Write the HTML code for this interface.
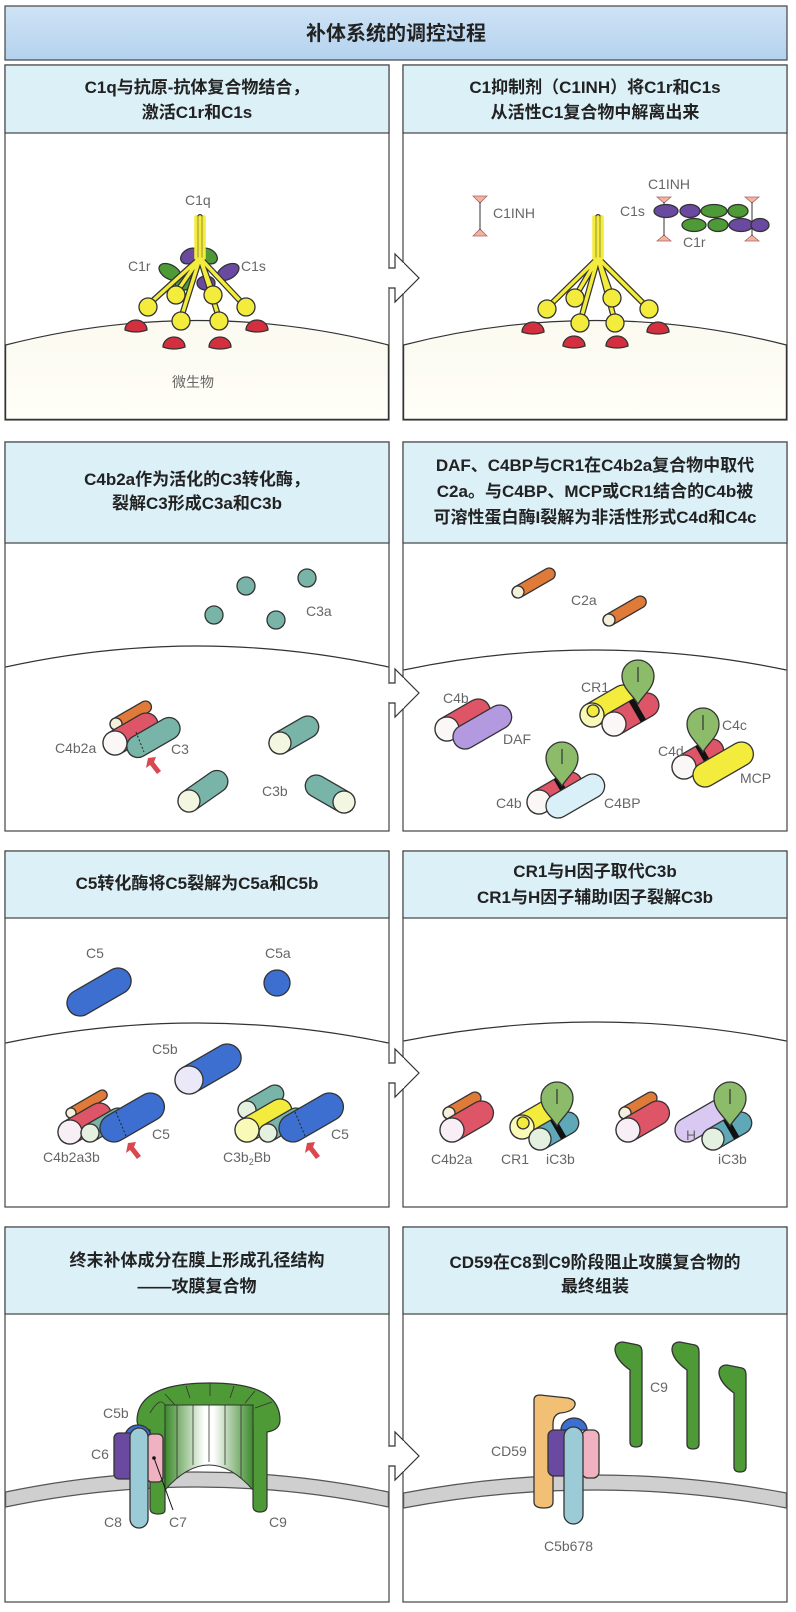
<!DOCTYPE html>
<html><head><meta charset="utf-8"><style>
html,body{margin:0;padding:0;background:#fff;width:796px;height:1612px;overflow:hidden}
svg{display:block}
.h{font-family:"Liberation Sans","Noto Sans CJK SC",sans-serif;font-weight:bold;font-size:17px;fill:#222;text-anchor:middle}
.l{font-family:"Liberation Sans","Noto Sans CJK SC",sans-serif;font-size:14px;fill:#666}
.o{stroke:#333;stroke-width:1.3}
</style></head><body>
<svg width="796" height="1612" viewBox="0 0 796 1612" xmlns="http://www.w3.org/2000/svg">
<defs>
<linearGradient id="tb" x1="0" y1="0" x2="0" y2="1"><stop offset="0" stop-color="#cfe3f5"/><stop offset="1" stop-color="#b3d2ee"/></linearGradient>
<linearGradient id="cr" x1="0" y1="0" x2="0" y2="1"><stop offset="0" stop-color="#fbfaf0"/><stop offset="1" stop-color="#fffef8"/></linearGradient>
<linearGradient id="pg" x1="0" y1="0" x2="1" y2="0"><stop offset="0" stop-color="#3d8a2c"/><stop offset="0.45" stop-color="#ffffff"/><stop offset="0.55" stop-color="#ffffff"/><stop offset="1" stop-color="#3d8a2c"/></linearGradient>
</defs>
<!-- Title -->
<rect x="5" y="6" width="782" height="54" fill="url(#tb)" stroke="#444" stroke-width="1.2"/>
<text x="396" y="40" class="h" style="font-size:20px">补体系统的调控过程</text>

<!-- panels -->
<g fill="#fff" stroke="#444" stroke-width="1.2">
<rect x="5" y="65" width="384" height="355"/><rect x="403" y="65" width="384" height="355"/>
<rect x="5" y="442" width="384" height="389"/><rect x="403" y="442" width="384" height="389"/>
<rect x="5" y="851" width="384" height="356"/><rect x="403" y="851" width="384" height="356"/>
<rect x="5" y="1227" width="384" height="375"/><rect x="403" y="1227" width="384" height="375"/>
</g>
<g fill="#dcf0f8" stroke="#444" stroke-width="1.2">
<rect x="5" y="65" width="384" height="68"/><rect x="403" y="65" width="384" height="68"/>
<rect x="5" y="442" width="384" height="101"/><rect x="403" y="442" width="384" height="101"/>
<rect x="5" y="851" width="384" height="67"/><rect x="403" y="851" width="384" height="67"/>
<rect x="5" y="1227" width="384" height="87"/><rect x="403" y="1227" width="384" height="87"/>
</g>
<text class="h" x="197" y="93">C1q与抗原-抗体复合物结合，</text>
<text class="h" x="197" y="118">激活C1r和C1s</text>
<text class="h" x="595" y="93">C1抑制剂（C1INH）将C1r和C1s</text>
<text class="h" x="595" y="118">从活性C1复合物中解离出来</text>
<text class="h" x="197" y="485">C4b2a作为活化的C3转化酶，</text>
<text class="h" x="197" y="509">裂解C3形成C3a和C3b</text>
<text class="h" x="595" y="471">DAF、C4BP与CR1在C4b2a复合物中取代</text>
<text class="h" x="595" y="497">C2a。与C4BP、MCP或CR1结合的C4b被</text>
<text class="h" x="595" y="523">可溶性蛋白酶I裂解为非活性形式C4d和C4c</text>
<text class="h" x="197" y="889">C5转化酶将C5裂解为C5a和C5b</text>
<text class="h" x="595" y="877">CR1与H因子取代C3b</text>
<text class="h" x="595" y="903">CR1与H因子辅助I因子裂解C3b</text>
<text class="h" x="197" y="1266">终末补体成分在膜上形成孔径结构</text>
<text class="h" x="197" y="1292">——攻膜复合物</text>
<text class="h" x="595" y="1268">CD59在C8到C9阶段阻止攻膜复合物的</text>
<text class="h" x="595" y="1292">最终组装</text>

<!-- membranes -->
<path d="M5.6 345 Q197 296 388.4 345 L388.4 419.4 L5.6 419.4Z" fill="url(#cr)" stroke="#333" stroke-width="1.2"/>
<path d="M403.6 345 Q595 296 786.4 345 L786.4 419.4 L403.6 419.4Z" fill="url(#cr)" stroke="#333" stroke-width="1.2"/>
<path d="M5.6 667 Q197 625 388.4 667" fill="none" stroke="#333" stroke-width="1.2"/>
<path d="M403.6 670 Q595 630 786.4 670" fill="none" stroke="#333" stroke-width="1.2"/>
<path d="M5.6 1043 Q197 1003 388.4 1043" fill="none" stroke="#333" stroke-width="1.2"/>
<path d="M403.6 1041 Q595 1003 786.4 1041" fill="none" stroke="#333" stroke-width="1.2"/>
<path d="M5.6 1492 Q197 1452 388.4 1492 L388.4 1507 Q197 1467 5.6 1507Z" fill="#cfcfcf" stroke="#555" stroke-width="1.2"/>
<path d="M403.6 1493 Q595 1457 786.4 1493 L786.4 1508 Q595 1472 403.6 1508Z" fill="#cfcfcf" stroke="#555" stroke-width="1.2"/>

<!-- arrows between panels -->
<g fill="#fff" stroke="#333" stroke-width="1.2">
<path d="M389 268 L395 268 L395 254 L419 278 L395 302 L395 288 L389 288"/>
<path d="M389 683 L395 683 L395 669 L419 693 L395 717 L395 703 L389 703"/>
<path d="M389 1063 L395 1063 L395 1049 L419 1073 L395 1097 L395 1083 L389 1083"/>
<path d="M389 1446 L395 1446 L395 1432 L419 1456 L395 1480 L395 1466 L389 1466"/>
</g>
<g stroke="#fff" stroke-width="2">
<line x1="389" y1="269" x2="389" y2="287"/><line x1="403" y1="263" x2="403" y2="293"/>
<line x1="389" y1="684" x2="389" y2="702"/><line x1="403" y1="678" x2="403" y2="708"/>
<line x1="389" y1="1064" x2="389" y2="1082"/><line x1="403" y1="1058" x2="403" y2="1088"/>
<line x1="389" y1="1447" x2="389" y2="1465"/><line x1="403" y1="1441" x2="403" y2="1471"/>
</g>

<!-- ROW1 LEFT: C1 -->
<g class="o">
<ellipse cx="190" cy="256" rx="10" ry="7" fill="#6a4aa0" transform="rotate(-30 190 256)"/>
<ellipse cx="208" cy="256" rx="10" ry="7" fill="#4e9a36" transform="rotate(30 208 256)"/>
<ellipse cx="170" cy="272" rx="12" ry="7" fill="#4e9a36" transform="rotate(30 170 272)"/>
<ellipse cx="228" cy="272" rx="12" ry="7" fill="#6a4aa0" transform="rotate(-30 228 272)"/>
<ellipse cx="184" cy="283" rx="9" ry="7" fill="#4e9a36"/>
<ellipse cx="206" cy="283" rx="9" ry="7" fill="#6a4aa0"/>
</g>
<g stroke="#333" stroke-width="6" stroke-linecap="round" fill="none">
<path d="M200 217 V258 L148 305 M200 258 L176 293 M200 258 L181 318 M200 258 L213 293 M200 258 L219 318 M200 258 L244 305"/>
</g>
<g stroke="#f4ec3c" stroke-width="3.5" stroke-linecap="round" fill="none">
<path d="M196 217 V258 M200 217 V258 M204 217 V258 M200 258 L148 305 M200 258 L176 293 M200 258 L181 318 M200 258 L213 293 M200 258 L219 318 M200 258 L244 305"/>
</g>
<g class="o" fill="#f4ec3c">
<circle cx="148" cy="307" r="9"/><circle cx="176" cy="295" r="9"/><circle cx="181" cy="321" r="9"/><circle cx="213" cy="295" r="9"/><circle cx="219" cy="321" r="9"/><circle cx="246" cy="307" r="9"/>
</g>
<g class="o" fill="#d42f3e">
<path d="M125 330 A11 10 0 0 1 147 330 Q136 334 125 330Z"/><path d="M163 347 A11 10 0 0 1 185 347 Q174 351 163 347Z"/>
<path d="M209 347 A11 10 0 0 1 231 347 Q220 351 209 347Z"/><path d="M246 330 A11 10 0 0 1 268 330 Q257 334 246 330Z"/>
</g>
<text class="l" x="185" y="205">C1q</text>
<text class="l" x="128" y="271">C1r</text>
<text class="l" x="241" y="271">C1s</text>
<text class="l" x="172" y="387">微生物</text>

<!-- ROW1 RIGHT -->
<g stroke="#333" stroke-width="6" stroke-linecap="round" fill="none">
<path d="M598 217 V258 L547 308 M598 258 L575 297 M598 258 L580 322 M598 258 L612 297 M598 258 L615 322 M598 258 L648 308"/>
</g>
<g stroke="#f4ec3c" stroke-width="3.5" stroke-linecap="round" fill="none">
<path d="M594 217 V258 M598 217 V258 M602 217 V258 M598 258 L547 308 M598 258 L575 297 M598 258 L580 322 M598 258 L612 297 M598 258 L615 322 M598 258 L648 308"/>
</g>
<g class="o" fill="#f4ec3c">
<circle cx="547" cy="309" r="9"/><circle cx="575" cy="298" r="9"/><circle cx="580" cy="323" r="9"/><circle cx="612" cy="298" r="9"/><circle cx="615" cy="323" r="9"/><circle cx="649" cy="309" r="9"/>
</g>
<g class="o" fill="#d42f3e">
<path d="M522 332 A11 10 0 0 1 544 332 Q533 336 522 332Z"/><path d="M563 346 A11 10 0 0 1 585 346 Q574 350 563 346Z"/>
<path d="M606 346 A11 10 0 0 1 628 346 Q617 350 606 346Z"/><path d="M647 332 A11 10 0 0 1 669 332 Q658 336 647 332Z"/>
</g>
<g fill="#f2b3a0" stroke="#a66" stroke-width="0.8">
<path d="M473 196 L487 196 L480 203Z"/><path d="M473 236 L487 236 L480 229Z"/>
<path d="M657 197 L671 197 L664 203Z"/><path d="M657 241 L671 241 L664 235Z"/>
<path d="M745 197 L759 197 L752 203Z"/><path d="M745 241 L759 241 L752 235Z"/>
</g>
<g stroke="#333" stroke-width="1"><line x1="480" y1="202" x2="480" y2="230"/><line x1="664" y1="202" x2="664" y2="236"/><line x1="752" y1="202" x2="752" y2="236"/></g>
<g class="o">
<ellipse cx="666" cy="211" rx="12" ry="6.5" fill="#6a4aa0"/><ellipse cx="690" cy="211" rx="10" ry="6.5" fill="#6a4aa0"/>
<ellipse cx="714" cy="211" rx="13" ry="6.5" fill="#4e9a36"/><ellipse cx="738" cy="211" rx="10" ry="6.5" fill="#4e9a36"/>
<ellipse cx="694" cy="225" rx="12" ry="6.5" fill="#4e9a36"/><ellipse cx="718" cy="225" rx="10" ry="6.5" fill="#4e9a36"/>
<ellipse cx="741" cy="225" rx="12" ry="6.5" fill="#6a4aa0"/><ellipse cx="760" cy="225" rx="9" ry="6.5" fill="#6a4aa0"/>
</g>
<text class="l" x="493" y="218">C1INH</text>
<text class="l" x="648" y="189">C1INH</text>
<text class="l" x="620" y="216">C1s</text>
<text class="l" x="683" y="247">C1r</text>

<!-- ROW2 LEFT -->
<g class="o" fill="#78b4a8">
<circle cx="246" cy="586" r="9"/><circle cx="307" cy="578" r="9"/><circle cx="214" cy="615" r="9"/><circle cx="276" cy="620" r="9"/>
</g>
<text class="l" x="306" y="616">C3a</text>
<g class="o">
<g transform="translate(116 724) rotate(-30)"><rect x="-6" y="-6" width="46" height="12" rx="6" fill="#e07a38"/><circle r="6" fill="#f5f0dc"/></g>
<g transform="translate(115 743) rotate(-30)"><rect x="-12" y="-12" width="60" height="24" rx="12" fill="#dd5566"/><circle r="12" fill="#fbf7f7"/></g>
<g transform="translate(137 747) rotate(-30)"><rect x="-10" y="-11" width="58" height="22" rx="11" fill="#78b4a8"/></g>
<g transform="translate(280 743) rotate(-30)"><rect x="-11" y="-11" width="54" height="22" rx="11" fill="#78b4a8"/><circle r="11" fill="#f3f6e0"/></g>
<g transform="translate(189 801) rotate(-35)"><rect x="-11" y="-11" width="56" height="22" rx="11" fill="#78b4a8"/><circle r="11" fill="#f3f6e0"/></g>
<g transform="translate(344 802) rotate(210)"><rect x="-11" y="-11" width="54" height="22" rx="11" fill="#78b4a8"/><circle r="11" fill="#f3f6e0"/></g>
</g>
<line x1="136" y1="732" x2="144" y2="752" stroke="#222" stroke-dasharray="2 2"/>
<path d="M148 758 L156 757 L154 762 L161 771 L157 774 L150 765 L146 768Z" fill="#d9474f"/>
<text class="l" x="55" y="753">C4b2a</text>
<text class="l" x="171" y="754">C3</text>
<text class="l" x="262" y="796">C3b</text>

<!-- ROW2 RIGHT -->
<g class="o">
<g transform="translate(518 592) rotate(-30)"><rect x="-6" y="-6" width="48" height="12" rx="6" fill="#e07a38"/><circle r="6" fill="#f5f0dc"/></g>
<g transform="translate(609 620) rotate(-30)"><rect x="-6" y="-6" width="48" height="12" rx="6" fill="#e07a38"/><circle r="6" fill="#f5f0dc"/></g>
<!-- C4b DAF -->
<g transform="translate(447 729) rotate(-30)"><rect x="-12" y="-12" width="60" height="24" rx="12" fill="#dd5566"/><circle r="12" fill="#fbf7f7"/></g>
<g transform="translate(465 737) rotate(-30)"><rect x="-12" y="-12" width="64" height="24" rx="12" fill="#b39ae0"/></g>
<!-- CR1 -->
<g transform="translate(592 715) rotate(-30)"><rect x="-12" y="-12" width="60" height="24" rx="12" fill="#f4ec3c"/><circle r="12" fill="#fafab8"/><circle cx="3" cy="-3" r="6" fill="#f4ec3c"/></g>
<g transform="translate(614 724) rotate(-30)"><rect x="-12" y="-12" width="62" height="24" rx="12" fill="#dd5566"/><circle r="12" fill="#fbf7f7"/><rect x="24" y="-12" width="6" height="24" fill="#111" stroke="none"/></g>
<!-- C4d MCP -->
<g transform="translate(684 767) rotate(-30)"><rect x="-12" y="-12" width="56" height="24" rx="12" fill="#dd5566"/><circle r="12" fill="#fbf7f7"/><rect x="20" y="-12" width="6" height="24" fill="#111" stroke="none"/></g>
<g transform="translate(705 775) rotate(-30)"><rect x="-12" y="-12" width="66" height="24" rx="12" fill="#f4ec3c"/></g>
<!-- C4b C4BP -->
<g transform="translate(539 802) rotate(-30)"><rect x="-12" y="-12" width="60" height="24" rx="12" fill="#dd5566"/><circle r="12" fill="#fbf7f7"/><rect x="24" y="-12" width="6" height="24" fill="#111" stroke="none"/></g>
<g transform="translate(558 806) rotate(-30)"><rect x="-12" y="-12" width="64" height="24" rx="12" fill="#daf0f8"/></g>
</g>
<g class="o" fill="#8cbb6a">
<path d="M638 704 C632 694 622 688 622 676 A16 16 0 1 1 654 676 C654 688 644 694 638 704Z"/>
<path d="M703 752 C697 742 687 736 687 724 A16 16 0 1 1 719 724 C719 736 709 742 703 752Z"/>
<path d="M562 786 C556 776 546 770 546 758 A16 16 0 1 1 578 758 C578 770 568 776 562 786Z"/>
</g>
<g stroke="#333" stroke-width="1.2"><line x1="638" y1="667" x2="638" y2="682"/><line x1="703" y1="715" x2="703" y2="730"/><line x1="562" y1="749" x2="562" y2="764"/></g>
<text class="l" x="571" y="605">C2a</text>
<text class="l" x="443" y="703">C4b</text>
<text class="l" x="503" y="744">DAF</text>
<text class="l" x="581" y="692">CR1</text>
<text class="l" x="722" y="730">C4c</text>
<text class="l" x="658" y="756">C4d</text>
<text class="l" x="740" y="783">MCP</text>
<text class="l" x="496" y="808">C4b</text>
<text class="l" x="604" y="808">C4BP</text>

<!-- ROW3 LEFT -->
<g class="o">
<g transform="translate(80 1003) rotate(-30)"><rect x="-13" y="-13" width="70" height="26" rx="13" fill="#3d6fd0"/></g>
<circle cx="277" cy="983" r="13" fill="#3d6fd0"/>
<g transform="translate(189 1080) rotate(-30)"><rect x="-14" y="-14" width="72" height="28" rx="14" fill="#3d6fd0"/><circle r="14" fill="#ebe9f7"/></g>
<!-- complex 1 -->
<g transform="translate(71 1113) rotate(-30)"><rect x="-5" y="-5" width="46" height="10" rx="5" fill="#e07a38"/><circle r="5" fill="#f5f0dc"/></g>
<g transform="translate(70 1132) rotate(-30)"><rect x="-12" y="-12" width="58" height="24" rx="12" fill="#dd5566"/><circle r="12" fill="#f8eef6"/></g>
<g transform="translate(90 1133) rotate(-30)"><rect x="-9" y="-9" width="50" height="18" rx="9" fill="#78b4a8"/><circle r="9" fill="#e4f0e0"/></g>
<g transform="translate(114 1128) rotate(-30)"><rect x="-14" y="-14" width="70" height="28" rx="14" fill="#3d6fd0"/></g>
<!-- complex 2 -->
<g transform="translate(247 1110) rotate(-30)"><rect x="-9" y="-9" width="50" height="18" rx="9" fill="#78b4a8"/><circle r="9" fill="#e4f0e0"/></g>
<g transform="translate(247 1130) rotate(-30)"><rect x="-12" y="-12" width="62" height="24" rx="12" fill="#f4ec3c"/><circle r="12" fill="#fafab8"/></g>
<g transform="translate(268 1133) rotate(-30)"><rect x="-9" y="-9" width="50" height="18" rx="9" fill="#78b4a8"/><circle r="9" fill="#e4f0e0"/></g>
<g transform="translate(293 1128) rotate(-30)"><rect x="-14" y="-14" width="70" height="28" rx="14" fill="#3d6fd0"/></g>
</g>
<line x1="116" y1="1112" x2="126" y2="1136" stroke="#222" stroke-dasharray="2 2"/>
<line x1="295" y1="1112" x2="305" y2="1136" stroke="#222" stroke-dasharray="2 2"/>
<path d="M128 1143 L136 1142 L134 1147 L141 1156 L137 1159 L130 1150 L126 1153Z" fill="#d9474f"/>
<path d="M307 1143 L315 1142 L313 1147 L320 1156 L316 1159 L309 1150 L305 1153Z" fill="#d9474f"/>
<text class="l" x="86" y="958">C5</text>
<text class="l" x="265" y="958">C5a</text>
<text class="l" x="152" y="1054">C5b</text>
<text class="l" x="43" y="1162">C4b2a3b</text>
<text class="l" x="152" y="1139">C5</text>
<text class="l" x="223" y="1162">C3b<tspan font-size="9" dy="3">2</tspan><tspan dy="-3">Bb</tspan></text>
<text class="l" x="331" y="1139">C5</text>

<!-- ROW3 RIGHT -->
<g class="o">
<g transform="translate(449 1113) rotate(-30)"><rect x="-6" y="-6" width="42" height="12" rx="6" fill="#e07a38"/><circle r="6" fill="#f5f0dc"/></g>
<g transform="translate(452 1130) rotate(-30)"><rect x="-12" y="-12" width="58" height="24" rx="12" fill="#dd5566"/><circle r="12" fill="#f8eef6"/></g>
<g transform="translate(522 1127) rotate(-30)"><rect x="-12" y="-12" width="60" height="24" rx="12" fill="#f4ec3c"/><circle r="12" fill="#fafab8"/><circle cx="3" cy="-3" r="6" fill="#f4ec3c"/></g>
<g transform="translate(540 1139) rotate(-30)"><rect x="-11" y="-11" width="54" height="22" rx="11" fill="#5fa8b8"/><circle r="11" fill="#e4f0e0"/><rect x="18" y="-11" width="6" height="22" fill="#111" stroke="none"/></g>
<g transform="translate(625 1113) rotate(-30)"><rect x="-6" y="-6" width="42" height="12" rx="6" fill="#e07a38"/><circle r="6" fill="#f5f0dc"/></g>
<g transform="translate(628 1130) rotate(-30)"><rect x="-12" y="-12" width="58" height="24" rx="12" fill="#dd5566"/><circle r="12" fill="#f8eef6"/></g>
<g transform="translate(687 1130) rotate(-30)"><rect x="-12" y="-12" width="70" height="24" rx="12" fill="#d9c8f2"/></g>
<g transform="translate(713 1139) rotate(-30)"><rect x="-11" y="-11" width="54" height="22" rx="11" fill="#5fa8b8"/><circle r="11" fill="#e4f0e0"/><rect x="18" y="-11" width="6" height="22" fill="#111" stroke="none"/></g>
</g>
<g class="o" fill="#8cbb6a">
<path d="M557 1126 C551 1116 541 1110 541 1098 A16 16 0 1 1 573 1098 C573 1110 563 1116 557 1126Z"/>
<path d="M730 1126 C724 1116 714 1110 714 1098 A16 16 0 1 1 746 1098 C746 1110 736 1116 730 1126Z"/>
</g>
<g stroke="#333" stroke-width="1.2"><line x1="557" y1="1089" x2="557" y2="1104"/><line x1="730" y1="1089" x2="730" y2="1104"/></g>
<text class="l" x="686" y="1140">H</text>
<text class="l" x="431" y="1164">C4b2a</text>
<text class="l" x="501" y="1164">CR1</text>
<text class="l" x="546" y="1164">iC3b</text>
<text class="l" x="718" y="1164">iC3b</text>

<!-- ROW4 LEFT: MAC -->
<path d="M137 1420 Q138 1383 210 1383 Q280 1383 280 1420 Q280 1430 267 1432 L267 1506 Q267 1512 260 1512 Q253 1512 253 1506 L253 1430 L165 1430 L165 1510 Q165 1514 158 1514 Q150 1514 150 1508 L150 1430 Q137 1430 137 1420Z" fill="#4e9a36" stroke="#333" stroke-width="1.2"/>
<path d="M165 1405 L253 1405 L253 1490 Q209 1440 165 1490Z" fill="url(#pg)" stroke="#333" stroke-width="1"/>
<g stroke="#333" stroke-width="0.8">
<line x1="177" y1="1405" x2="177" y2="1478"/><line x1="193" y1="1405" x2="193" y2="1465"/><line x1="209" y1="1405" x2="209" y2="1462"/><line x1="225" y1="1405" x2="225" y2="1465"/><line x1="241" y1="1405" x2="241" y2="1478"/>
<path d="M150 1413 Q160 1396 165 1405 M165 1394 L175 1405 M186 1386 L190 1398 M210 1383 L210 1396 M234 1386 L230 1398 M255 1391 L245 1403 M272 1402 L255 1408" fill="none"/>
</g>
<g class="o">
<path d="M125 1437 A13 12 0 0 1 151 1437Z" fill="#3d6fd0"/>
<rect x="114" y="1433" width="20" height="46" rx="5" fill="#6a4aa0"/>
<rect x="147" y="1434" width="16" height="48" rx="5" fill="#f0b2c0"/>
<rect x="130" y="1428" width="18" height="100" rx="9" fill="#9ccbd8"/>
</g>
<circle cx="154" cy="1458" r="1.8" fill="#111"/>
<line x1="154" y1="1458" x2="173" y2="1510" stroke="#111" stroke-width="1"/>
<text class="l" x="103" y="1418">C5b</text>
<text class="l" x="91" y="1459">C6</text>
<text class="l" x="104" y="1527">C8</text>
<text class="l" x="169" y="1527">C7</text>
<text class="l" x="269" y="1527">C9</text>

<!-- ROW4 RIGHT -->
<g class="o" fill="#4e9a36">
<path d="M615 1350 Q615 1342 623 1342 L638 1345 Q642 1346 642 1352 L642 1442 Q642 1447 636 1447 Q630 1447 630 1442 L630 1370 Q616 1360 615 1350Z"/>
<path d="M672 1350 Q672 1342 680 1342 L695 1345 Q699 1346 699 1352 L699 1444 Q699 1449 693 1449 Q687 1449 687 1444 L687 1370 Q673 1360 672 1350Z"/>
<path d="M719 1373 Q719 1365 727 1365 L742 1368 Q746 1369 746 1375 L746 1467 Q746 1472 740 1472 Q734 1472 734 1467 L734 1393 Q720 1383 719 1373Z"/>
</g>
<g class="o">
<path d="M534 1400 Q534 1395 540 1395 L568 1398 Q576 1400 575 1405 Q573 1412 560 1413 Q553 1415 553 1424 L553 1502 Q553 1508 544 1508 Q534 1508 534 1502Z" fill="#f2c074"/>
<path d="M561 1430 A13 12 0 0 1 587 1430Z" fill="#3d6fd0"/>
<rect x="548" y="1430" width="22" height="46" rx="6" fill="#6a4aa0"/>
<rect x="582" y="1430" width="17" height="48" rx="6" fill="#f0b2c0"/>
<rect x="564" y="1427" width="19" height="97" rx="9.5" fill="#9ccbd8"/>
</g>
<text class="l" x="650" y="1392">C9</text>
<text class="l" x="491" y="1456">CD59</text>
<text class="l" x="544" y="1551">C5b678</text>
</svg>
</body></html>
